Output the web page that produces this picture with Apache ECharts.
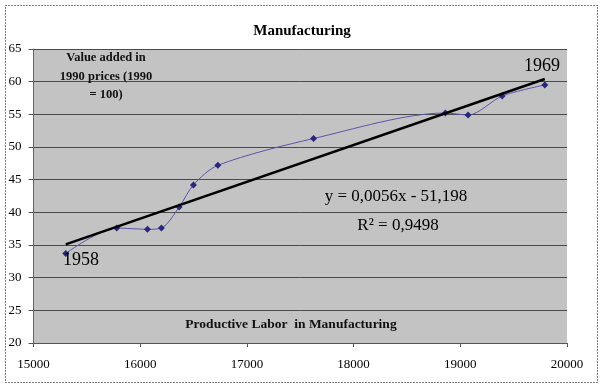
<!DOCTYPE html>
<html>
<head>
<meta charset="utf-8">
<script src="https://cdn.jsdelivr.net/npm/echarts@6/dist/echarts.min.js"></script>
<style>html,body{margin:0;padding:0;background:#fff}#c{width:604px;height:388px}</style>
</head>
<body>
<div id="c"></div>
<script>
// Productive labor (x) and value added index (y), 1958..1969
var laborX = [15302, 15780, 16068, 16199, 16365, 16499, 16728, 17625, 18860, 19073, 19392, 19792];
var valueY = [33.7, 37.6, 37.4, 37.6, 40.8, 44.2, 47.2, 51.3, 55.2, 54.9, 57.8, 59.5];
// Linear trend line endpoints
var trendX = [15302, 19792];
var trendY = [35.1, 60.4];
var xTicks = [15000, 16000, 17000, 18000, 19000, 20000];
var yTicks = [20, 25, 30, 35, 40, 45, 50, 55, 60, 65];
var titleText = 'Manufacturing';
var yAxisNote = 'Value added in\n1990 prices (1990\n= 100)';
var xAxisNote = 'Productive Labor  in Manufacturing';
var eqText = 'y = 0,0056x - 51,198';
var r2Text = 'R² = 0,9498';
var firstYear = '1958', lastYear = '1969';

var serif = '"Liberation Serif", "DejaVu Serif", serif';
var chart = echarts.init(document.getElementById('c'), null, {renderer: 'canvas'});
var pts = laborX.map(function (x, i) { return [x, valueY[i]]; });
var trend = trendX.map(function (x, i) { return [x, trendY[i]]; });

chart.setOption({
  animation: false,
  backgroundColor: '#ffffff',
  title: {
    text: titleText, left: 'center', top: 19,
    textStyle: {fontFamily: serif, fontSize: 15, fontWeight: 'bold', color: '#000'}
  },
  grid: {
    left: 33.5, right: 37, top: 49, bottom: 45, show: true,
    backgroundColor: '#c3c3c3', borderWidth: 0
  },
  xAxis: {
    type: 'value', min: xTicks[0], max: xTicks[xTicks.length - 1], interval: 1000,
    axisLine: {show: true, lineStyle: {color: '#555', width: 1}},
    axisTick: {show: true, length: 4, lineStyle: {color: '#555'}},
    axisLabel: {fontFamily: serif, fontSize: 13, color: '#000', margin: 15,
      formatter: function (v) { return String(v); }},
    splitLine: {show: false}
  },
  yAxis: {
    type: 'value', min: yTicks[0], max: yTicks[yTicks.length - 1], interval: 5,
    axisLine: {show: true, lineStyle: {color: '#666', width: 1}},
    axisTick: {show: true, length: 5, lineStyle: {color: '#555'}},
    axisLabel: {fontFamily: serif, fontSize: 13, color: '#000', margin: 12, align: 'right'},
    splitLine: {show: true, lineStyle: {color: '#4a4a4a', width: 1}}
  },
  series: [
    {
      type: 'line', data: pts, smooth: 0.3,
      symbol: 'diamond', symbolSize: 7,
      lineStyle: {color: '#5a55a8', width: 1},
      itemStyle: {color: '#2a2680', borderWidth: 0},
      z: 3
    },
    {
      type: 'line', data: trend, symbol: 'none',
      lineStyle: {color: '#000', width: 2.5},
      z: 4
    }
  ],
  graphic: [
    {type: 'rect', shape: {x: 5.5, y: 5.5, width: 592, height: 377},
     style: {fill: 'none', stroke: '#000', lineWidth: 1, lineDash: [1, 2]}, silent: true, z: 0},
    {type: 'text', x: 106, y: 49, style: {text: yAxisNote, fontFamily: serif, fontSize: 12.5, fontWeight: 'bold',
      fill: '#111', align: 'center', verticalAlign: 'top', lineHeight: 18.5}, z: 10},
    {type: 'text', x: 291, y: 325, style: {text: xAxisNote, fontFamily: serif, fontSize: 13.5, fontWeight: 'bold',
      fill: '#111', align: 'center', verticalAlign: 'middle'}, z: 10},
    {type: 'text', x: 63, y: 260, style: {text: firstYear, fontFamily: serif, fontSize: 18,
      fill: '#000', align: 'left', verticalAlign: 'middle'}, z: 10},
    {type: 'text', x: 542, y: 66, style: {text: lastYear, fontFamily: serif, fontSize: 18,
      fill: '#000', align: 'center', verticalAlign: 'middle'}, z: 10},
    {type: 'text', x: 396, y: 197, style: {text: eqText, fontFamily: serif, fontSize: 17,
      fill: '#000', align: 'center', verticalAlign: 'middle'}, z: 10},
    {type: 'text', x: 398, y: 226, style: {text: r2Text, fontFamily: serif, fontSize: 17,
      fill: '#000', align: 'center', verticalAlign: 'middle'}, z: 10}
  ]
});
</script>
</body>
</html>
